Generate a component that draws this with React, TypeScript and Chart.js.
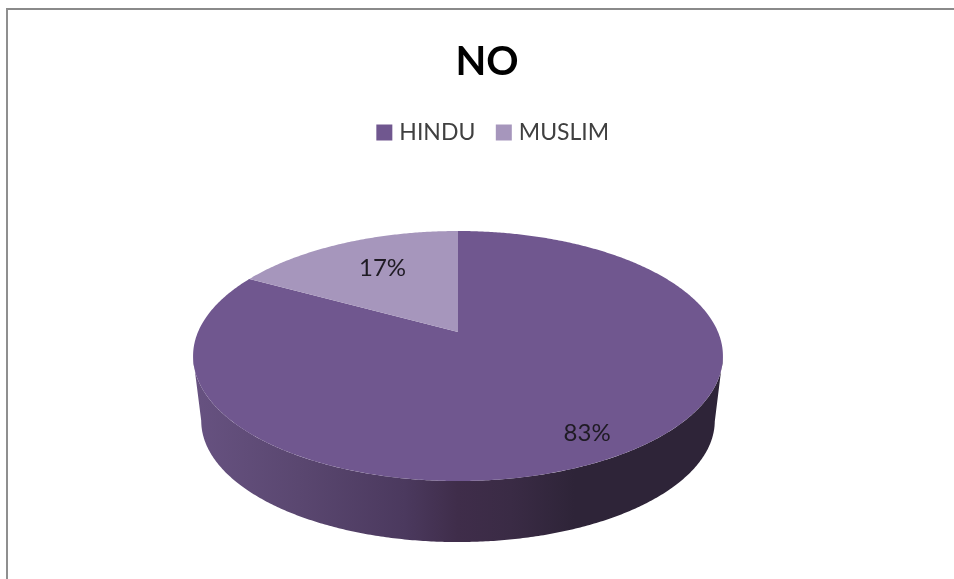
import React, { useEffect, useRef } from "react";
import { Chart, ArcElement, PieController, Legend, Title } from "chart.js";

const categories = ["HINDU", "MUSLIM"];
const shares = [83, 17];
const topColors = ["#70578F", "#A696BC"];

// Where each slice's percentage sits: fraction of the radius plus a small sideways nudge.
const LABEL_PLACEMENT = [
  { radius: 0.84, nudgeX: 0 },
  { radius: 0.685, nudgeX: 6 },
];

// Perspective of the disc: plane coordinates (X, Y) on the unit circle map to
// screen offsets width*X/(1+k*Y), height*Y/(1+k*Y) around the disc centre.
const PERSPECTIVE = -0.192;
const TOP_RIM = { width: 260, height: 120.4, dy: 0 };
const BOTTOM_RIM = { width: 252, height: 116.8, dy: 65.5 };
const CENTER_SHIFT_X = -29;
const LEGEND_SHIFT_X = 8;
const FONT = "Lato, 'Open Sans', sans-serif";
const WALL_STOPS: [number, string][] = [
  [0, "#675281"],
  [0.2, "#5A4770"],
  [0.4, "#4B395E"],
  [0.5, "#3F2D4A"],
  [0.6, "#3A2B45"],
  [0.72, "#2E2438"],
  [1, "#2E2438"],
];

function project(rim: typeof TOP_RIM, cx: number, cy: number, t: number, r = 1) {
  const X = Math.cos(t) * r;
  const Y = Math.sin(t) * r;
  const d = 1 + PERSPECTIVE * Y;
  return [cx + CENTER_SHIFT_X + (rim.width * X) / d, cy + rim.dy + (rim.height * Y) / d];
}

class TiltedArc extends ArcElement {
  static id = "tiltedArc";

  draw(ctx: CanvasRenderingContext2D) {
    const { x, y, startAngle, endAngle } = this as any;
    const fill = (this as any).options.backgroundColor;
    const STEP = Math.PI / 360;

    // Side wall: only the part of the rim facing the viewer is visible.
    const limit = Math.asin(-PERSPECTIVE);
    const from = Math.max(startAngle, limit);
    const to = Math.min(endAngle, Math.PI - limit);
    if (to > from) {
      const left = project(TOP_RIM, x, y, Math.PI - limit)[0];
      const right = project(TOP_RIM, x, y, limit)[0];
      const wall = ctx.createLinearGradient(left, 0, right, 0);
      WALL_STOPS.forEach(([at, color]) => wall.addColorStop(at, color));
      ctx.beginPath();
      for (let t = from; t <= to; t += STEP) {
        const [px, py] = project(TOP_RIM, x, y, t);
        ctx.lineTo(px, py);
      }
      for (let t = to; t >= from; t -= STEP) {
        const [px, py] = project(BOTTOM_RIM, x, y, t);
        ctx.lineTo(px, py);
      }
      ctx.closePath();
      ctx.fillStyle = wall;
      ctx.fill();
    }

    // Top face of the slice.
    ctx.beginPath();
    const [ax, ay] = project(TOP_RIM, x, y, 0, 0);
    ctx.moveTo(ax, ay);
    for (let t = startAngle; t < endAngle; t += STEP) {
      const [px, py] = project(TOP_RIM, x, y, t);
      ctx.lineTo(px, py);
    }
    const [ex, ey] = project(TOP_RIM, x, y, endAngle);
    ctx.lineTo(ex, ey);
    ctx.closePath();
    ctx.fillStyle = fill;
    ctx.fill();
  }
}

class TiltedPieController extends PieController {
  static id = "tiltedPie";
  static defaults = { dataElementType: "tiltedArc" };
}

const sliceLabels = {
  id: "sliceLabels",
  afterDatasetsDraw(chart: Chart) {
    const { ctx } = chart;
    const elements = chart.getDatasetMeta(0).data as any[];
    ctx.save();
    ctx.font = `24px ${FONT}`;
    ctx.fillStyle = "#1F1B24";
    ctx.textAlign = "center";
    ctx.textBaseline = "middle";
    elements.forEach((el, i) => {
      const mid = (el.startAngle + el.endAngle) / 2;
      const place = LABEL_PLACEMENT[i];
      const [px, py] = project(TOP_RIM, el.x, el.y, mid, place.radius);
      ctx.fillText(`${shares[i]}%`, px + place.nudgeX, py);
    });
    ctx.restore();
  },
};

// The legend sits slightly right of the title's centre line.
const legendOffset = {
  id: "legendOffset",
  afterLayout(chart: any) {
    chart.legend.left += LEGEND_SHIFT_X;
    chart.legend.right += LEGEND_SHIFT_X;
  },
};

Chart.register(TiltedArc, TiltedPieController, Legend, Title);

export default function App() {
  const canvasRef = useRef<HTMLCanvasElement>(null);

  useEffect(() => {
    const chart = new Chart(canvasRef.current!, {
      type: "tiltedPie" as any,
      data: {
        labels: categories,
        datasets: [{ data: shares, backgroundColor: topColors, borderWidth: 0 }],
      },
      options: {
        responsive: false,
        animation: false,
        events: [],
        layout: { padding: { left: 20, bottom: 69 } },
        plugins: {
          title: {
            display: true,
            text: "NO",
            color: "#000000",
            font: { family: FONT, size: 40, weight: "bold" },
            padding: { top: 38, bottom: 10 },
          },
          legend: {
            position: "top",
            labels: {
              usePointStyle: true,
              pointStyle: "rect",
              boxWidth: 7,
              boxHeight: 16,
              color: "#404040",
              font: { family: FONT, size: 23 },
              padding: 25,
            },
          },
        },
      },
      plugins: [sliceLabels, legendOffset],
    } as any);
    return () => chart.destroy();
  }, []);

  return (
    <div style={{ position: "fixed", left: 0, top: 0, width: 954, height: 579, background: "#fff" }}>
      <div
        style={{
          position: "absolute",
          left: 6,
          top: 8,
          right: 0,
          bottom: 0,
          borderTop: "2px solid #8A8A8A",
          borderLeft: "2px solid #8F8F8F",
        }}
      />
      <canvas
        ref={canvasRef}
        width={954}
        height={579}
        style={{ position: "absolute", left: 0, top: 0 }}
      />
    </div>
  );
}
